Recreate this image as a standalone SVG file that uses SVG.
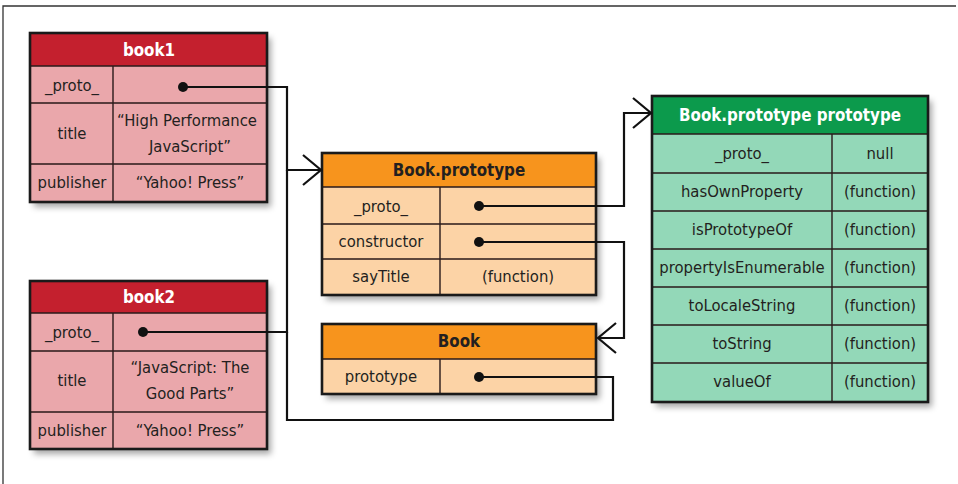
<svg xmlns="http://www.w3.org/2000/svg" width="958" height="484" viewBox="0 0 958 484">
<defs>
<filter id="sh" x="-10%" y="-10%" width="125%" height="130%">
<feDropShadow dx="4" dy="5" stdDeviation="3" flood-color="#000" flood-opacity="0.35"/>
</filter>
<marker id="ah" markerUnits="userSpaceOnUse" viewBox="-21 -18 24 36" refX="0" refY="0" markerWidth="24" markerHeight="36" orient="auto" overflow="visible">
<path d="M-18,-15 L0,0 L-18,15" fill="none" stroke="#111" stroke-width="2.2"/>
</marker>
</defs>
<style>
text{font-family:"DejaVu Sans Condensed","Liberation Sans Narrow","Liberation Sans",sans-serif;font-size:16.5px;fill:#231f20;text-anchor:middle}
.h{font-weight:bold;font-size:16.8px}
.hw{fill:#fff}
.out{fill:none;stroke:#1a1a1a;stroke-width:2.6}
.in{fill:none;stroke:#2a1a1a;stroke-width:1.4}
.red-h{fill:#c4202e}.red-b{fill:#eaa7ab}
.or-h{fill:#f7941d}.or-b{fill:#fcd3a6}
.gr-h{fill:#0c9a4c}.gr-b{fill:#93d8b8}
.con{fill:none;stroke:#111;stroke-width:2.2}
.dot{fill:#111}
</style>
<rect x="0" y="0" width="958" height="484" fill="#fff"/>
<path d="M3,484 V6 H956" fill="none" stroke="#333" stroke-width="1.3"/>

<g id="book1">
<g filter="url(#sh)"><rect x="30" y="33" width="237" height="169" class="red-b"/></g>
<rect x="30" y="33" width="237" height="33" class="red-h"/>
<path class="in" d="M30,66 H267 M30,103 H267 M30,164 H267 M113,66 V202"/>
<rect x="30" y="33" width="237" height="169" class="out"/>
<text x="149" y="56" class="h hw">book1</text>
<text x="72" y="91">_proto_</text>
<text x="72" y="139">title</text>
<text x="187" y="126">“High Performance</text>
<text x="190" y="152">JavaScript”</text>
<text x="72" y="188">publisher</text>
<text x="190" y="188">“Yahoo! Press”</text>
</g>

<g id="book2">
<g filter="url(#sh)"><rect x="30" y="281" width="237" height="168" class="red-b"/></g>
<rect x="30" y="281" width="237" height="32" class="red-h"/>
<path class="in" d="M30,313 H267 M30,351 H267 M30,412 H267 M113,313 V449"/>
<rect x="30" y="281" width="237" height="168" class="out"/>
<text x="149" y="303" class="h hw">book2</text>
<text x="72" y="338">_proto_</text>
<text x="72" y="386">title</text>
<text x="190" y="373">“JavaScript: The</text>
<text x="190" y="399">Good Parts”</text>
<text x="72" y="436">publisher</text>
<text x="190" y="436">“Yahoo! Press”</text>
</g>

<g id="book-prototype">
<g filter="url(#sh)"><rect x="322" y="153" width="274" height="142" class="or-b"/></g>
<rect x="322" y="153" width="274" height="34" class="or-h"/>
<path class="in" d="M322,187 H596 M322,224 H596 M322,259 H596 M440,187 V295"/>
<rect x="322" y="153" width="274" height="142" class="out"/>
<text x="459" y="176" class="h">Book.prototype</text>
<text x="381" y="212">_proto_</text>
<text x="381" y="247">constructor</text>
<text x="381" y="282">sayTitle</text>
<text x="518" y="282">(function)</text>
</g>

<g id="book">
<g filter="url(#sh)"><rect x="322" y="324" width="274" height="70" class="or-b"/></g>
<rect x="322" y="324" width="274" height="35" class="or-h"/>
<path class="in" d="M322,359 H596 M440,359 V394"/>
<rect x="322" y="324" width="274" height="70" class="out"/>
<text x="459" y="347" class="h">Book</text>
<text x="381" y="382">prototype</text>
</g>

<g id="object-prototype">
<g filter="url(#sh)"><rect x="652" y="96" width="276" height="306" class="gr-b"/></g>
<rect x="652" y="96" width="276" height="38" class="gr-h"/>
<path class="in" d="M652,134 H928 M652,173 H928 M652,211 H928 M652,249 H928 M652,287 H928 M652,325 H928 M652,363 H928 M832,134 V402"/>
<rect x="652" y="96" width="276" height="306" class="out"/>
<text x="790" y="121" class="h hw">Book.prototype prototype</text>
<text x="742" y="159">_proto_</text>
<text x="880" y="159">null</text>
<text x="742" y="197">hasOwnProperty</text>
<text x="880" y="197">(function)</text>
<text x="742" y="235">isPrototypeOf</text>
<text x="880" y="235">(function)</text>
<text x="742" y="273">propertyIsEnumerable</text>
<text x="880" y="273">(function)</text>
<text x="742" y="311">toLocaleString</text>
<text x="880" y="311">(function)</text>
<text x="742" y="349">toString</text>
<text x="880" y="349">(function)</text>
<text x="742" y="387">valueOf</text>
<text x="880" y="387">(function)</text>
</g>

<g id="connectors">
<path class="con" d="M183,87 H287 V170 H321" marker-end="url(#ah)"/>
<path class="con" d="M143,332 H287 V170"/>
<path class="con" d="M479,377 H613 V420 H287 V332"/>
<path class="con" d="M479,206 H624 V113 H651" marker-end="url(#ah)"/>
<path class="con" d="M479,242 H624 V338 H598" marker-end="url(#ah)"/>
<circle class="dot" cx="183" cy="87" r="5"/>
<circle class="dot" cx="143" cy="332" r="5"/>
<circle class="dot" cx="479" cy="206" r="5"/>
<circle class="dot" cx="479" cy="242" r="5"/>
<circle class="dot" cx="479" cy="377" r="5"/>
</g>
</svg>
